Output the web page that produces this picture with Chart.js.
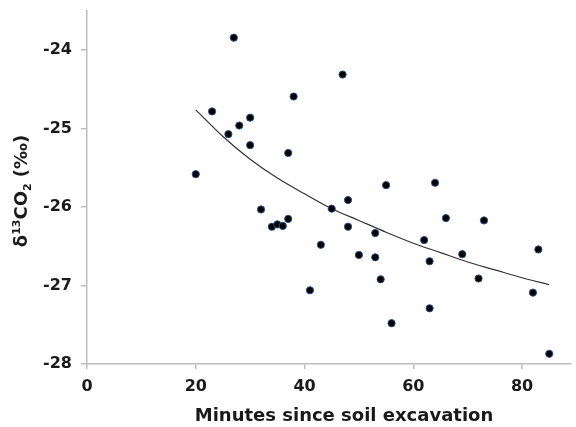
<!DOCTYPE html>
<html>
<head>
<meta charset="utf-8">
<script src="https://cdn.jsdelivr.net/npm/chart.js@4/dist/chart.umd.min.js"></script>
<style>
  html, body { margin: 0; padding: 0; background: #fff; overflow: hidden; }
  #wrap { width: 576px; height: 427px; }
  canvas { display: block; }
</style>
</head>
<body>
<div id="wrap"><canvas id="chart" width="576" height="427"></canvas></div>
<script>
// measured samples (minutes, delta13C)
const minutes = [20, 23, 26, 27, 28, 30, 30, 32, 34, 35, 36, 37, 37, 38, 41, 43, 45, 47, 48, 48,
                 50, 53, 53, 54, 55, 56, 62, 63, 63, 64, 66, 69, 72, 73, 82, 83, 85];
const d13C = [-25.58, -24.78, -25.07, -23.84, -24.96, -24.86, -25.21, -26.03, -26.25, -26.22,
              -26.24, -25.31, -26.15, -24.59, -27.06, -26.48, -26.02, -24.31, -25.91, -26.25,
              -26.61, -26.33, -26.64, -26.92, -25.72, -27.48, -26.42, -26.69, -27.29, -25.69,
              -26.14, -26.60, -26.91, -26.17, -27.09, -26.54, -27.87];

// trend curve
const fitMinutes = [20, 25, 30, 35, 40, 45, 50, 55, 60, 65, 70, 75, 80, 85];
const fitValues = [-24.76, -25.10, -25.39, -25.63, -25.83, -26.02, -26.17, -26.32, -26.46,
                   -26.58, -26.70, -26.80, -26.90, -26.99];

const xTicks = [0, 20, 40, 60, 80];
const yTicks = [-28, -27, -26, -25, -24];

const axisGrey = '#bdbdbd';
const FONT = '"DejaVu Sans", "Liberation Sans", Arial, sans-serif';

// axis titles drawn by hand (super/subscripts in the y title)
const axisTitles = {
    id: 'axisTitles',
    afterDraw(chart) {
        const ctx = chart.ctx;
        ctx.save();
        ctx.fillStyle = '#1a1a1a';
        ctx.textBaseline = 'alphabetic';

        // x title
        ctx.font = 'bold 18px ' + FONT;
        ctx.textAlign = 'center';
        ctx.fillText('Minutes since soil excavation', 344, 421);

        // y title, rotated
        const parts = [
            { t: 'δ', size: 18, dy: 0 },
            { t: '13', size: 11, dy: -7 },
            { t: 'CO', size: 18, dy: 0 },
            { t: '2', size: 11, dy: 4 },
            { t: ' (‰)', size: 18, dy: 0 }
        ];
        let total = 0;
        parts.forEach(p => {
            ctx.font = 'bold ' + p.size + 'px ' + FONT;
            p.w = ctx.measureText(p.t).width;
            total += p.w;
        });
        ctx.translate(27, 191);
        ctx.rotate(-Math.PI / 2);
        ctx.textAlign = 'left';
        let x = -total / 2;
        parts.forEach(p => {
            ctx.font = 'bold ' + p.size + 'px ' + FONT;
            ctx.fillText(p.t, x, p.dy);
            x += p.w;
        });
        ctx.restore();
    }
};

const ctx = document.getElementById('chart').getContext('2d');
new Chart(ctx, {
    type: 'scatter',
    data: {
        datasets: [{
            label: 'samples',
            data: minutes.map((m, i) => ({ x: m, y: d13C[i] })),
            backgroundColor: '#000',
            borderColor: '#2b4f86',
            borderWidth: 1,
            pointRadius: 3.6,
            order: 1
        }, {
            label: 'fit',
            data: fitMinutes.map((m, i) => ({ x: m, y: fitValues[i] })),
            showLine: true,
            borderColor: '#333',
            borderWidth: 1.2,
            pointRadius: 0,
            cubicInterpolationMode: 'monotone',
            order: 2
        }]
    },
    options: {
        responsive: false,
        animation: false,
        layout: { padding: { top: 11, right: 0, left: 0, bottom: 0 } },
        plugins: {
            legend: { display: false },
            tooltip: { enabled: false }
        },
        scales: {
            x: {
                type: 'linear',
                min: 0,
                max: 89,
                afterBuildTicks: s => { s.ticks = xTicks.map(v => ({ value: v })); },
                afterFit: s => {
                    s.height = 63;
                    s.paddingLeft = 0;
                    s.paddingRight = 0;
                },
                grid: { drawOnChartArea: false, color: axisGrey, tickLength: 5, lineWidth: 1.5 },
                border: { color: axisGrey, width: 1.5 },
                ticks: {
                    color: '#1a1a1a',
                    padding: 8,
                    maxRotation: 0,
                    font: { family: FONT, size: 16, weight: 'bold' }
                }
            },
            y: {
                type: 'linear',
                min: -28,
                max: -23.5,
                afterBuildTicks: s => { s.ticks = yTicks.map(v => ({ value: v })); },
                afterFit: s => {
                    s.width = 87;
                    s.paddingTop = 0;
                    s.paddingBottom = 0;
                },
                grid: { drawOnChartArea: false, color: axisGrey, tickLength: 6, lineWidth: 1.5 },
                border: { color: axisGrey, width: 1.5 },
                ticks: {
                    color: '#1a1a1a',
                    padding: 9,
                    font: { family: FONT, size: 16, weight: 'bold' }
                }
            }
        }
    },
    plugins: [axisTitles]
});
</script>
</body>
</html>
